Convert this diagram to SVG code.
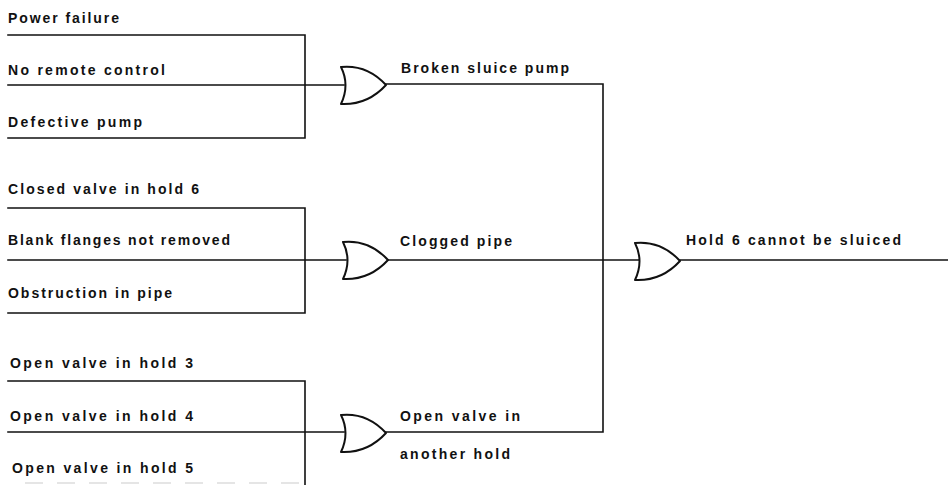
<svg xmlns="http://www.w3.org/2000/svg" width="948" height="485" viewBox="0 0 948 485">
<style>
.ln{stroke:#111;stroke-width:1.6;fill:none;stroke-linecap:square}
.gate{stroke:#111;stroke-width:2;fill:#fff;stroke-linejoin:round}
text{font-family:"Liberation Sans",Arial,sans-serif;font-size:14px;font-weight:bold;fill:#111}
</style>
<defs>
<path id="or" d="M0,-18 C20,-20 34,-12 45,0 C34,12 20,20 0,19 Q9,0 0,-18 Z"/>
</defs>
<rect width="948" height="485" fill="#fff"/>
<g id="connectors">
<path class="ln" d="M8,35H305V138H8M8,85H344"/>
<path class="ln" d="M386,84H603V432H386"/>
<path class="ln" d="M8,208H305V313H8M8,260H346"/>
<path class="ln" d="M388,260H639"/>
<path class="ln" d="M680,260H948"/>
<path class="ln" d="M8,381H305V485M8,432H344"/>
<path d="M25,483H300" stroke="#ddd" stroke-width="1.5" stroke-dasharray="18,14" fill="none"/>
</g>
<g id="power-failure"><text x="8" y="23" textLength="111" lengthAdjust="spacing">Power failure</text></g>
<g id="no-remote-control"><text x="8" y="75" textLength="157" lengthAdjust="spacing">No remote control</text></g>
<g id="defective-pump"><text x="8" y="127" textLength="134" lengthAdjust="spacing">Defective pump</text></g>
<g id="gate-broken-sluice-pump">
<use href="#or" class="gate" transform="translate(341,85)"/>
<text x="401" y="73" textLength="168" lengthAdjust="spacing">Broken sluice pump</text>
</g>
<g id="closed-valve"><text x="8" y="194" textLength="191" lengthAdjust="spacing">Closed valve in hold 6</text></g>
<g id="blank-flanges"><text x="8" y="245" textLength="222" lengthAdjust="spacing">Blank flanges not removed</text></g>
<g id="obstruction"><text x="8" y="298" textLength="164" lengthAdjust="spacing">Obstruction in pipe</text></g>
<g id="gate-clogged-pipe">
<use href="#or" class="gate" transform="translate(343,260)"/>
<text x="400" y="246" textLength="112" lengthAdjust="spacing">Clogged pipe</text>
</g>
<g id="gate-hold6">
<use href="#or" class="gate" transform="translate(635,261)"/>
<text x="686" y="245" textLength="215" lengthAdjust="spacing">Hold 6 cannot be sluiced</text>
</g>
<g id="open-valve-3"><text x="10" y="368" textLength="183" lengthAdjust="spacing">Open valve in hold 3</text></g>
<g id="open-valve-4"><text x="10" y="421" textLength="183" lengthAdjust="spacing">Open valve in hold 4</text></g>
<g id="open-valve-5"><text x="12" y="473" textLength="181" lengthAdjust="spacing">Open valve in hold 5</text></g>
<g id="gate-open-valve-another">
<use href="#or" class="gate" transform="translate(341,433)"/>
<text x="400" y="421" textLength="120" lengthAdjust="spacing">Open valve in</text>
<text x="400" y="459" textLength="110" lengthAdjust="spacing">another hold</text>
</g>
</svg>
